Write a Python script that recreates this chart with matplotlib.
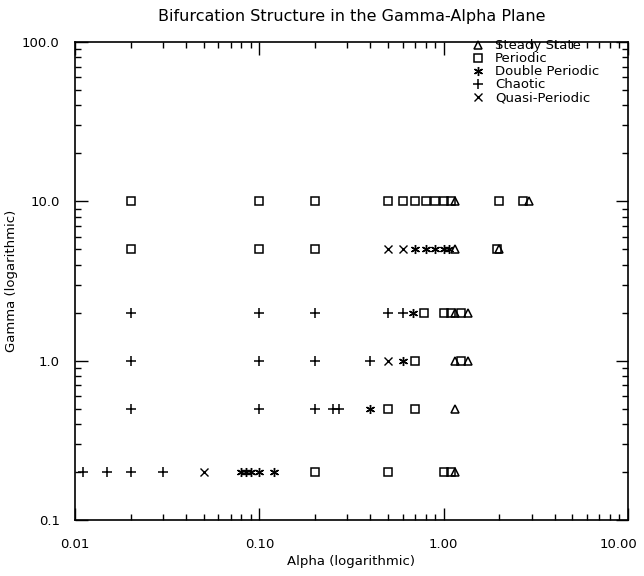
import numpy as np
from matplotlib import pyplot as plt
from matplotlib.transforms import ScaledTranslation
from matplotlib.ticker import FixedLocator, FixedFormatter, LogLocator, NullFormatter

# regime points, (alpha, gamma) for each type of solution
steady_alpha = [1.15, 2.9, 1.15, 2.0, 1.15, 1.35, 1.15, 1.35, 1.15, 1.15]
steady_gamma = [10, 10, 5, 5, 2, 2, 1, 1, 0.5, 0.2]

periodic_alpha = [0.02, 0.1, 0.2, 0.5, 0.6, 0.7, 0.8, 0.9, 1.0, 1.1, 2.0, 2.7,
                  0.02, 0.1, 0.2, 1.95,
                  0.78, 1.0, 1.1, 1.25,
                  0.7, 1.25,
                  0.5, 0.7,
                  0.2, 0.5, 1.0, 1.1]
periodic_gamma = [10] * 12 + [5] * 4 + [2] * 4 + [1] * 2 + [0.5] * 2 + [0.2] * 4

double_alpha = [0.7, 0.8, 0.9, 1.0, 1.07, 0.68, 0.6, 0.4, 0.08, 0.085, 0.09, 0.1, 0.12]
double_gamma = [5] * 5 + [2, 1, 0.5] + [0.2] * 5

chaotic_alpha = [0.02, 0.1, 0.2, 0.5, 0.6,
                 0.02, 0.1, 0.2, 0.4,
                 0.02, 0.1, 0.2, 0.25, 0.27,
                 0.011, 0.015, 0.02, 0.03]
chaotic_gamma = [2] * 5 + [1] * 4 + [0.5] * 5 + [0.2] * 4

quasi_alpha = [0.5, 0.6, 0.5, 0.05]
quasi_gamma = [5, 5, 1, 0.2]

xticks = [0.01, 0.1, 1.0, 10.0]
xlabels = ['0.01', '0.10', '1.00', '10.00']
yticks = [0.1, 1.0, 10.0, 100.0]
ylabels = ['0.1', '1.0', '10.0', '100.0']

fig = plt.figure(figsize=(6.44, 5.76), dpi=100)
ax = fig.add_axes([0.1165, 0.0972, 0.8585, 0.83])

ms = 5.5
ax.plot(steady_alpha, steady_gamma, ls='none', marker='^', ms=ms, mfc='none',
        mec='black', mew=1.1, label='Steady State')
ax.plot(periodic_alpha, periodic_gamma, ls='none', marker='s', ms=ms, mfc='none',
        mec='black', mew=1.1, label='Periodic')
ax.plot(double_alpha, double_gamma, ls='none', marker=(6, 2, 0), ms=ms + 1,
        mec='black', mew=1.0, label='Double Periodic')
ax.plot(chaotic_alpha, chaotic_gamma, ls='none', marker='+', ms=ms + 1,
        mec='black', mew=1.1, label='Chaotic')
ax.plot(quasi_alpha, quasi_gamma, ls='none', marker='x', ms=ms, mec='black',
        mew=1.0, label='Quasi-Periodic')

ax.set_xscale('log')
ax.set_yscale('log')
ax.set_xlim(0.01, 10)
ax.set_ylim(0.1, 100)

ax.xaxis.set_major_locator(FixedLocator(xticks))
ax.xaxis.set_major_formatter(FixedFormatter(xlabels))
ax.yaxis.set_major_locator(FixedLocator(yticks))
ax.yaxis.set_major_formatter(FixedFormatter(ylabels))
ax.xaxis.set_minor_locator(LogLocator(base=10, subs=np.arange(2, 10)))
ax.yaxis.set_minor_locator(LogLocator(base=10, subs=np.arange(2, 10)))
ax.xaxis.set_minor_formatter(NullFormatter())
ax.yaxis.set_minor_formatter(NullFormatter())

ax.tick_params(which='both', direction='in', top=True, right=True,
               labelsize=9.5, width=1.0)
ax.tick_params(axis='x', which='major', length=9, pad=13)
ax.tick_params(axis='y', which='major', length=9, pad=11)
ax.tick_params(which='minor', length=4.5)
for s in ax.spines.values():
    s.set_linewidth(1.2)

# pull the last x label inside the figure edge
fig.canvas.draw()
last = ax.get_xticklabels()[-1]
last.set_transform(last.get_transform() + ScaledTranslation(-7 / 72, 0, fig.dpi_scale_trans))

ax.set_title('Bifurcation Structure in the Gamma-Alpha Plane', fontsize=11.5, pad=15)
ax.set_xlabel('Alpha (logarithmic)', fontsize=9.5, labelpad=3)
ax.set_ylabel('Gamma (logarithmic)', fontsize=9.5, labelpad=3)

ax.legend(loc='upper right', bbox_to_anchor=(0.965, 1.025), frameon=False,
          fontsize=9.5, handlelength=1.0, handletextpad=0.8, labelspacing=0.0,
          borderpad=0.2, markerscale=1.0)

plt.savefig('out.png', dpi=100)
